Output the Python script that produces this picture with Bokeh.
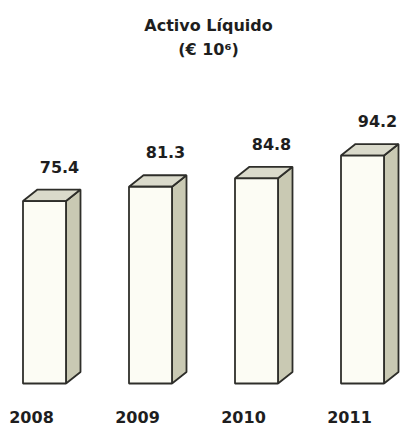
from bokeh.plotting import figure
from bokeh.models import ColumnDataSource, Range1d, Label
from bokeh.core.properties import value
from bokeh.embed import file_html
from bokeh.resources import INLINE

# ---- data ----
years = ["2008", "2009", "2010", "2011"]
values = [75.4, 81.3, 84.8, 94.2]
title_line1 = "Activo Líquido"
title_line2 = "(€ 10⁶)"

# ---- geometry (pixel scale helpers) ----
W, H = 402, 426
PX_X = 106.0          # pixels per category step
PX_Y = 2.42           # pixels per value unit
x0 = -44 / PX_X
y0 = -43 / PX_Y
x1 = x0 + W / PX_X
y1 = y0 + H / PX_Y

half_w = 21.5 / PX_X
dx = 14.5 / PX_X
dy = 11.5 / PX_Y

p = figure(width=W, height=H, output_backend="svg", toolbar_location=None,
           x_range=Range1d(x0, x1), y_range=Range1d(y0, y1),
           x_axis_type=None, y_axis_type=None, min_border=0)
p.grid.visible = False
p.outline_line_color = None
p.background_fill_color = "white"
p.border_fill_color = "white"

idx = list(range(len(years)))
left = [i - half_w for i in idx]
right = [i + half_w for i in idx]

side_xs = [[r, r + dx, r + dx, r] for r in right]
side_ys = [[0, dy, v + dy, v] for v in values]
top_xs = [[l, l + dx, r + dx, r] for l, r in zip(left, right)]
top_ys = [[v, v + dy, v + dy, v] for v in values]

edge = "#2e2e2a"
p.patches(side_xs, side_ys, fill_color="#c9c9b3", line_color=edge, line_width=1.8)
p.patches(top_xs, top_ys, fill_color="#dadacb", line_color=edge, line_width=1.8)
p.quad(left=left, right=right, bottom=0, top=values,
       fill_color="#fcfcf4", line_color=edge, line_width=1.8)

src = ColumnDataSource(dict(
    xv=[i + 15 / PX_X for i in idx],
    yv=[v + dy + 23 / PX_Y for v in values],
    lab=[f"{v:.1f}" for v in values],
    xy=[i - 13 / PX_X for i in idx],
    yy=[-33 / PX_Y] * len(idx),
    yr=years,
))
p.text(x="xv", y="yv", text="lab", source=src, text_align="center",
       text_baseline="middle", text_font=value("DejaVu Sans"),
       text_font_style="bold", text_font_size="16px", text_color="#1e1e1e")
p.text(x="xy", y="yy", text="yr", source=src, text_align="center",
       text_baseline="middle", text_font=value("DejaVu Sans"),
       text_font_style="bold", text_font_size="16px", text_color="#1e1e1e")

tx = x0 + 208 / PX_X
p.add_layout(Label(x=tx, y=y1 - 24.5 / PX_Y, text=title_line1,
                   text_align="center", text_baseline="middle",
                   text_font="DejaVu Sans", text_font_style="bold",
                   text_font_size="16px", text_color="#1e1e1e"))
p.add_layout(Label(x=tx, y=y1 - 48.5 / PX_Y, text=title_line2,
                   text_align="center", text_baseline="middle",
                   text_font="DejaVu Sans", text_font_style="bold",
                   text_font_size="16px", text_color="#1e1e1e"))

open("out.html", "w").write(file_html(p, INLINE))
